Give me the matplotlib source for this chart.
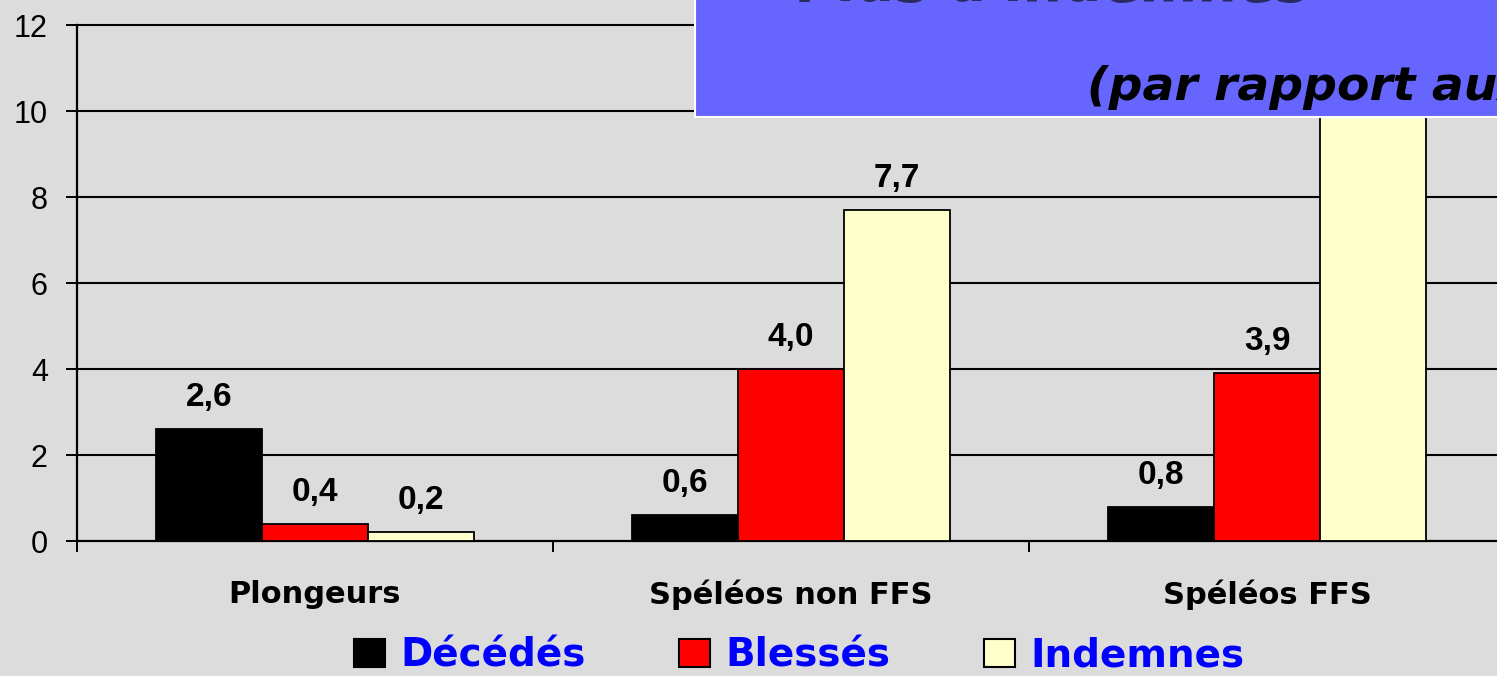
import matplotlib
matplotlib.use("Agg")
import matplotlib.pyplot as plt
from matplotlib.patches import Patch, Rectangle

# --- data ---------------------------------------------------------------
groupes = ["Plongeurs", "Spéléos non FFS", "Spéléos FFS"]
series = ["Décédés", "Blessés", "Indemnes"]
decedes = [2.6, 0.6, 0.8]
blesses = [0.4, 4.0, 3.9]
indemnes = [0.2, 7.7, 12.6]   # last value hidden under the title box (estimate)
couleurs = ["#000000", "#ff0000", "#ffffcc"]
yticks = [0, 2, 4, 6, 8, 10, 12]

plt.rcParams["font.family"] = ["Liberation Sans", "DejaVu Sans"]

fig = plt.figure(figsize=(14.97, 6.76), dpi=100)
fig.patch.set_facecolor("#dcdcdc")

ax = fig.add_axes([0.0514, 0.1997, 0.954, 0.7629])
ax.set_facecolor("none")

w = 0.223
x = list(range(len(groupes)))
for i, (nom, vals, col) in enumerate(zip(series, [decedes, blesses, indemnes], couleurs)):
    pos = [xi + (i - 1) * w for xi in x]
    bars = ax.bar(pos, vals, width=w, color=col, edgecolor="black",
                  linewidth=1.3, zorder=3, label=nom)
    for b, v in zip(bars, vals):
        ax.annotate(f"{v:.1f}".replace(".", ","),
                    (b.get_x() + b.get_width() / 2, v),
                    xytext=(0, 23), textcoords="offset pixels",
                    ha="center", va="baseline", fontsize=24,
                    fontweight="bold", annotation_clip=True)

ax.set_xlim(-0.5, 2.5)
ax.set_ylim(0, 12)
ax.set_yticks(yticks)
ax.set_yticklabels([str(t) for t in yticks])
ax.tick_params(axis="y", length=8, width=1.4, pad=13, labelsize=22)

ax.set_xticks([-0.5, 0.5, 1.5])
ax.set_xticklabels([])
ax.set_xticks(x, minor=True)
ax.set_xticklabels(groupes, minor=True, fontsize=22, fontweight="bold",
                   family="DejaVu Sans")
ax.tick_params(axis="x", which="major", length=8, width=1.4)
ax.tick_params(axis="x", which="minor", length=0, pad=28)

for y in yticks[1:]:
    ax.axhline(y, color="black", linewidth=1.5, zorder=1, clip_on=False)

for s in ["top", "right"]:
    ax.spines[s].set_visible(False)
for s in ["left", "bottom"]:
    ax.spines[s].set_linewidth(1.6)

# legend
handles = [Patch(facecolor=c, edgecolor="black", linewidth=1.5) for c in couleurs]
leg = fig.legend(handles, series, loc="center", bbox_to_anchor=(0.534, 0.030),
                 ncol=3, frameon=False, handlelength=0.8, handleheight=0.72,
                 handletextpad=0.4, columnspacing=2.4, borderpad=0,
                 prop={"weight": "bold", "size": 28, "family": "DejaVu Sans"})
for t in leg.get_texts():
    t.set_color("#0000ff")

# title box (partly cut off in the reference)
box = Rectangle((0.4643, 0.827), 0.54, 0.18, transform=fig.transFigure,
                facecolor="#6666ff", edgecolor="white", linewidth=1.5, zorder=10)
fig.add_artist(box)
fig.text(0.533, 0.999, "Plus d'indemnes", fontsize=40, fontweight="bold",
         style="italic", family="DejaVu Sans", color="#2a2a60",
         ha="left", va="baseline", zorder=11)
fig.text(0.726, 0.852, "(par rapport aux accidents)", fontsize=34,
         fontweight="bold", style="italic", family="DejaVu Sans",
         color="black", ha="left", va="baseline", zorder=11)

fig.savefig("out.png", dpi=100, facecolor=fig.get_facecolor())
